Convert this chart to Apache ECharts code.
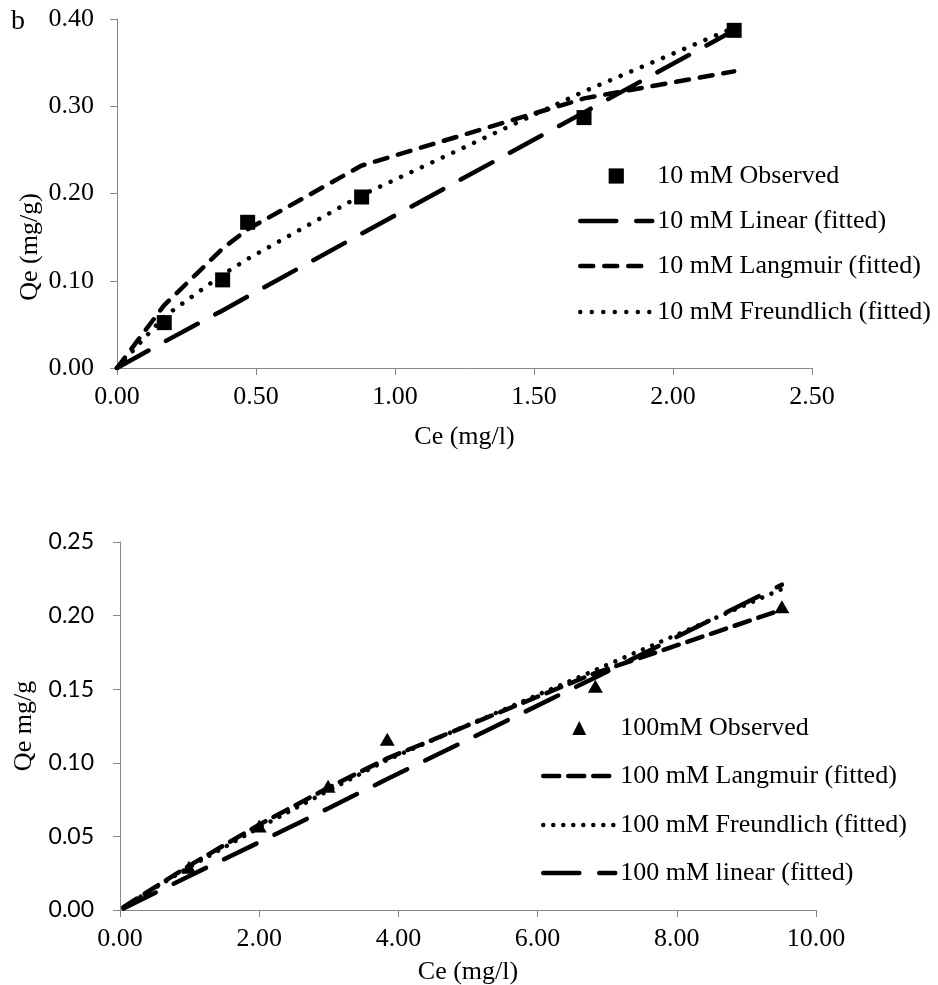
<!DOCTYPE html>
<html><head><meta charset="utf-8">
<script src="https://cdn.jsdelivr.net/npm/echarts@6/dist/echarts.min.js"></script>
<style>html,body{margin:0;padding:0;background:#fff}#c{width:938px;height:985px}</style>
</head><body><div id="c"></div>
<script>
// ---------- Panel b (top): 10 mM ----------
const topObsCe = [0.17, 0.38, 0.47, 0.88, 1.68, 2.22];
const topObsQe = [0.052, 0.101, 0.167, 0.196, 0.287, 0.387];
const topFitCe = [0, 0.17, 0.38, 0.47, 0.88, 1.68, 2.22];
const topLinear = [0, 0.030, 0.066, 0.082, 0.154, 0.293, 0.387];
const topLangmuir = [0, 0.072, 0.137, 0.159, 0.232, 0.309, 0.340];
const topFreundlich = [0, 0.059, 0.107, 0.125, 0.198, 0.317, 0.390];
const topNames = ['10 mM Observed', '10 mM Linear (fitted)', '10 mM Langmuir (fitted)', '10 mM Freundlich (fitted)'];

// ---------- Bottom: 100 mM ----------
const botObsCe = [0.99, 2.00, 2.99, 3.84, 6.83, 9.51];
const botObsQe = [0.029, 0.057, 0.084, 0.116, 0.152, 0.206];
const botFitCe = [0.05, 0.99, 2.00, 2.99, 3.84, 6.83, 9.51];
const botLangmuir = [0.002, 0.030, 0.058, 0.083, 0.103, 0.161, 0.204];
const botFreundlich = [0.002, 0.029, 0.056, 0.081, 0.102, 0.163, 0.218];
const botLinear = [0.001, 0.023, 0.046, 0.069, 0.089, 0.158, 0.221];
const botNames = ['100mM Observed', '100 mM Langmuir (fitted)', '100 mM Freundlich (fitted)', '100 mM linear (fitted)'];

const SERIF = 'Liberation Serif';
const AXIS_GRAY = '#888888';
const LW = 4.5;
const zip = (xs, ys) => xs.map((x, i) => [x, ys[i]]);

const longDash = [36, 20];
const shortDashTop = [13, 11];
const shortDashBot = [16, 9];
const dots = [0.01, 11.5];
const dotsBot = [0.01, 10];

function fitLine(name, xi, yi, xs, ys, dash) {
  return {
    name, type: 'line', xAxisIndex: xi, yAxisIndex: yi,
    data: zip(xs, ys), symbol: 'none', smooth: false,
    lineStyle: { color: '#000', width: LW, type: dash, cap: 'round', join: 'round' },
    itemStyle: { color: '#000' }, z: 3
  };
}
function obsSeries(name, xi, yi, xs, ys, symbol, size) {
  return {
    name, type: 'line', xAxisIndex: xi, yAxisIndex: yi,
    data: zip(xs, ys), symbol, symbolSize: size, showSymbol: true,
    lineStyle: { opacity: 0, width: 0 }, itemStyle: { color: '#000' }, z: 5
  };
}
function xAx(gi, max, interval, nameGap) {
  return {
    type: 'value', gridIndex: gi, min: 0, max, interval,
    name: 'Ce (mg/l)', nameLocation: 'middle', nameGap,
    nameTextStyle: { fontFamily: SERIF, fontSize: 26, color: '#000' },
    axisLine: { show: true, onZero: false, lineStyle: { color: AXIS_GRAY, width: 1 } },
    axisTick: { show: true, inside: false, length: 7, lineStyle: { color: AXIS_GRAY } },
    axisLabel: { fontFamily: SERIF, fontSize: 26, color: '#000', margin: 16,
      formatter: v => v.toFixed(2) },
    splitLine: { show: false }
  };
}
function yAx(gi, max, interval, font, size, margin, extra) {
  return Object.assign({
    type: 'value', gridIndex: gi, min: 0, max, interval,
    axisLine: { show: true, onZero: false, lineStyle: { color: AXIS_GRAY, width: 1 } },
    axisTick: { show: true, inside: false, length: 7, lineStyle: { color: AXIS_GRAY } },
    axisLabel: { fontFamily: font, fontSize: size, color: '#000', margin,
      formatter: v => v.toFixed(2) },
    splitLine: { show: false }
  }, extra || {});
}
function legendRow(name, left, rowY, itemH, isFit) {
  const item = { name };
  if (isFit) item.itemStyle = { opacity: 0 };
  return {
    data: [item], left, top: rowY - 13, orient: 'horizontal',
    itemWidth: 72, itemHeight: itemH, itemGap: 0, padding: 0,
    selectedMode: false,
    lineStyle: { width: LW },
    textStyle: { fontFamily: SERIF, fontSize: 26, color: '#000' }
  };
}

const option = {
  backgroundColor: '#fff',
  animation: false,
  grid: [
    { left: 117, right: 126, top: 19, bottom: 617, outerBoundsMode: 'none' },
    { left: 120, right: 122, top: 542, bottom: 75, outerBoundsMode: 'none' }
  ],
  xAxis: [xAx(0, 2.5, 0.5, 56), xAx(1, 10, 2, 49)],
  yAxis: [
    yAx(0, 0.4, 0.1, SERIF, 26, 23),
    yAx(1, 0.25, 0.05, 'Lato', 23, 26, {
      name: 'Qe mg/g', nameLocation: 'middle', nameGap: 78, nameRotate: 90,
      nameTextStyle: { fontFamily: SERIF, fontSize: 26, color: '#000' }
    })
  ],
  legend: [
    legendRow(topNames[0], 578, 176, 19, false),
    legendRow(topNames[1], 578, 221, 19, true),
    legendRow(topNames[2], 578, 266, 19, true),
    legendRow(topNames[3], 578, 312, 19, true),
    legendRow(botNames[0], 541, 728, 17.5, false),
    legendRow(botNames[1], 541, 776, 17.5, true),
    legendRow(botNames[2], 541, 825, 17.5, true),
    legendRow(botNames[3], 541, 873, 17.5, true)
  ],
  graphic: [
    { type: 'text', x: 18, y: 22, style: { text: 'b', font: '28px "Liberation Serif"', fill: '#000', align: 'center', verticalAlign: 'middle' } },
    { type: 'text', x: 30, y: 247, rotation: Math.PI / 2, style: { text: 'Qe (mg/g)', font: '26px "Liberation Serif"', fill: '#000', align: 'center', verticalAlign: 'middle' } }
  ],
  series: [
    obsSeries(topNames[0], 0, 0, topObsCe, topObsQe, 'rect', 15),
    fitLine(topNames[1], 0, 0, topFitCe, topLinear, longDash),
    fitLine(topNames[2], 0, 0, topFitCe, topLangmuir, shortDashTop),
    fitLine(topNames[3], 0, 0, topFitCe, topFreundlich, dots),
    obsSeries(botNames[0], 1, 1, botObsCe, botObsQe, 'triangle', [15, 13]),
    fitLine(botNames[1], 1, 1, botFitCe, botLangmuir, shortDashBot),
    fitLine(botNames[2], 1, 1, botFitCe, botFreundlich, dotsBot),
    fitLine(botNames[3], 1, 1, botFitCe, botLinear, longDash)
  ]
};
const chart = echarts.init(document.getElementById('c'), null, { renderer: 'canvas' });
chart.setOption(option);
</script>
</body></html>
